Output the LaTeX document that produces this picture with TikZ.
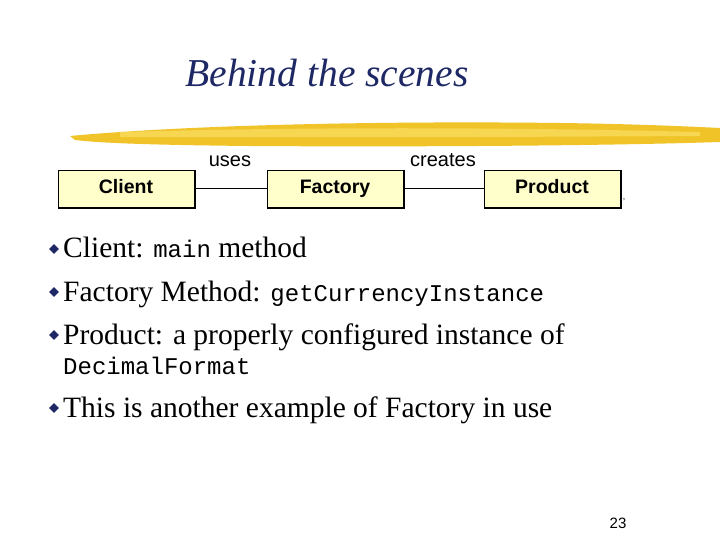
\documentclass[tikz,border=0pt]{standalone}
\usepackage{fontspec}
\setmainfont{Liberation Serif}
\setsansfont{Liberation Sans}
\setmonofont{Liberation Mono}
\definecolor{brush}{RGB}{240,196,40}
\definecolor{brushlight}{RGB}{250,222,100}
\definecolor{clsfill}{RGB}{255,255,204}
\definecolor{navy}{RGB}{30,40,100}
\begin{document}
\begin{tikzpicture}[x=1pt,y=-1pt,
  cls/.style={draw=black,fill=clsfill,minimum width=136pt,minimum height=37pt,inner sep=0pt,text height=14pt,text depth=4pt,font=\sffamily\bfseries\fontsize{19.5}{22}\selectfont},
  bul/.style={anchor=base west,font=\fontsize{29.5}{34}\selectfont,inner sep=0pt},
  lab/.style={font=\sffamily\fontsize{20}{22}\selectfont,anchor=base}]
\useasboundingbox (0,0) rectangle (720,540);
\fill[white] (0,0) rectangle (720,540);
% brush stroke
\fill[brush] (70,136) .. controls (200,124) and (400,121) .. (560,123) .. controls (640,124) and (700,127) .. (720,128) -- (720,142) .. controls (600,146) and (400,147) .. (250,146) .. controls (150,145) and (100,143) .. (75,140) -- cycle;
\fill[brushlight,opacity=0.7] (120,132) .. controls (300,127) and (500,127) .. (700,132) -- (700,136) .. controls (500,137) and (300,138) .. (120,137) -- cycle;
\node[font=\itshape\fontsize{39.5}{46}\selectfont,text=navy,anchor=base] (title) at (327,87) {Behind the scenes};
\node[cls] (client) at (126,188.5) {Client};
\node[cls] (factory) at (335,188.5) {Factory};
\node[cls] (product) at (552,188.5) {Product};
\foreach \n in {client,factory,product}{
  \draw[line width=1.5pt] ([xshift=0.75pt]\n.north east) -- ([xshift=0.75pt,yshift=-0.75pt]\n.south east) -- ([yshift=-0.75pt]\n.south west);}
\draw (client) -- (factory);
\draw (factory) -- (product);
\node[lab] (uses) at (230,167) {uses};
\node[lab] (creates) at (443,167) {creates};
\node[font=\fontsize{8}{8}\selectfont,inner sep=0pt] (dot) at (624,200) {,};
\foreach \y/\t [count=\i] in {258/{Client: \texttt{\fontsize{24}{28}\selectfont main} method},301/{Factory Method: \texttt{\fontsize{24}{28}\selectfont getCurrencyInstance}},344/{Product: a properly configured instance of},417/{This is another example of Factory in use}}{
  \node[fill=navy,rotate=45,minimum size=7pt,inner sep=0pt] (d\i) at (54,\y-9) {};
  \node[bul] (t\i) at (63,\y) {\t};}
\node[bul,font=\ttfamily\fontsize{24}{28}\selectfont] (t5) at (63,374) {DecimalFormat};
\node[font=\sffamily\fontsize{15}{18}\selectfont] (pg) at (618,523) {23};
\end{tikzpicture}
\end{document}
